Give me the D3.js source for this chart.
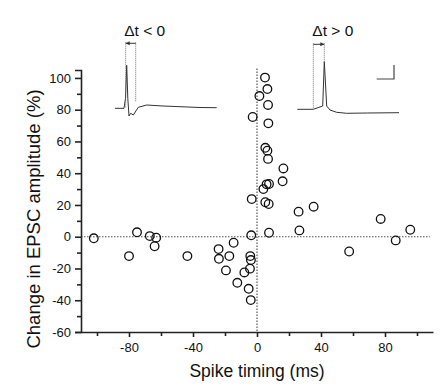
<!DOCTYPE html>
<html>
<head>
<script src="https://d3js.org/d3.v7.min.js"></script>
<style>
  body { margin: 0; background: white; }
  svg { display: block; font-family: 'Liberation Sans', Arial, sans-serif; }
</style>
</head>
<body>
<div class="chart"></div>
<script>
// spike timing (ms) vs change in EPSC amplitude (%)
const timing = [-102, -80, -75, -67, -63, -64, -43.5, -24, -23.8, -17.3, -14.6, -19.4, -12.3, -7.9, -4.4, -4.2, -3.8, -5.2, -3.9, -3.6,
                5, 6.5, 1.5, 6.9, -2.7, 7.1, 5.2, 6.5, 6.9, 16.5, 16, 7.5, 6, 4, -3.3, 5.2, 7.3, 26, 35.4, 7.5, 26.5, 57.6, 77.3, 86.7, 95.8];
const change = [-1, -12.2, 2.8, 0.4, -0.6, -6, -12.2, -7.8, -13.9, -12.2, -3.8, -21.2, -29, -22.5, -20.1, -12.2, -14.7, -32.8, -39.9, 0.9,
                100.2, 93, 88.6, 83, 75.4, 71.4, 56, 54.2, 49, 43, 34.9, 33.2, 33, 30, 23.7, 21.7, 20.6, 15.8, 18.9, 2.5, 4, -9.3, 11.2, -2.3, 4.4];
const xTicks = [-100, -80, -60, -40, -20, 0, 20, 40, 60, 80, 100];
const xLabels = [-80, -40, 0, 40, 80];
const yTicks = [-60, -50, -40, -30, -20, -10, 0, 10, 20, 30, 40, 50, 60, 70, 80, 90, 100];
const yLabels = [-60, -40, -20, 0, 20, 40, 60, 80, 100];

// inset traces, [time, amplitude] in inset units
const preTrace = [[0, 0], [9, 0], [10.5, 10], [11.7, 43], [12.8, 10], [14, -7.7], [15.7, -5], [18.3, -6.7], [23.3, 1], [31.7, 3.3], [48, 2.3], [65, 1.6], [85, 0.8], [101.7, 0.6]];
const postTrace = [[0, 0], [16, 0], [25.4, 3.3], [27, 47.6], [29.4, 3.3], [32.7, -0.7], [39.4, -3], [49.4, -4], [70, -3.7], [101.7, -3.4]];

const w = 448, h = 387;
const svg = d3.select(".chart").append("svg").attr("width", w).attr("height", h);

const x = d3.scaleLinear().domain([-110, 110]).range([81, 433]);
const y = d3.scaleLinear().domain([-60, 105]).range([332, 70]);

// zero lines
svg.append("line")
  .attr("x1", x(-110)).attr("x2", x(108))
  .attr("y1", y(0)).attr("y2", y(0))
  .attr("stroke", "#555").attr("stroke-width", 1.2).attr("stroke-dasharray", "1.5,1.5");
svg.append("line")
  .attr("x1", x(0)).attr("x2", x(0))
  .attr("y1", y(106)).attr("y2", y(-60))
  .attr("stroke", "#555").attr("stroke-width", 1.2).attr("stroke-dasharray", "1.5,1.5");

// axes
const xAxis = svg.append("g")
  .attr("transform", `translate(0,${y(-60)})`)
  .call(d3.axisBottom(x).tickValues(xTicks).tickSize(5).tickSizeOuter(0).tickPadding(6)
    .tickFormat(d => xLabels.includes(d) ? String(d) : ""));
xAxis.selectAll(".tick line").attr("y2", d => xLabels.includes(d) ? 5 : 4);

const yAxis = svg.append("g")
  .attr("transform", `translate(${x(-110)},0)`)
  .call(d3.axisLeft(y).tickValues(yTicks).tickSize(6).tickSizeOuter(6).tickPadding(4)
    .tickFormat(d => yLabels.includes(d) ? String(d) : ""));
yAxis.selectAll(".tick line").attr("x2", d => yLabels.includes(d) ? -6 : -4);

svg.selectAll(".domain, .tick line").attr("stroke", "#222").attr("stroke-width", 1.6);
svg.selectAll(".tick text").attr("font-size", 13).attr("fill", "#111")
  .attr("font-family", "'Liberation Sans', Arial, sans-serif");

// axis titles
svg.append("text")
  .attr("x", x(0)).attr("y", 377)
  .attr("text-anchor", "middle").attr("font-size", 17.5).attr("fill", "#111")
  .text("Spike timing (ms)");
svg.append("text")
  .attr("transform", "translate(40,219) rotate(-90)")
  .attr("text-anchor", "middle").attr("font-size", 18.5).attr("fill", "#111")
  .text("Change in EPSC amplitude (%)");

// data points
svg.selectAll("circle")
  .data(timing.map((t, i) => [t, change[i]]))
  .enter()
  .append("circle")
  .attr("cx", d => x(d[0]))
  .attr("cy", d => y(d[1]))
  .attr("r", 4.3)
  .attr("fill", "none")
  .attr("stroke", "#111")
  .attr("stroke-width", 1.3);

// insets
function inset(trace, x0, y0, lines, arrowDir, label) {
  const ix = d3.scaleLinear().domain([0, 1]).range([x0, x0 + 1]);
  const iy = d3.scaleLinear().domain([0, 1]).range([y0, y0 - 1]);
  const g = svg.append("g");
  g.append("path")
    .attr("d", d3.line().x(d => ix(d[0])).y(d => iy(d[1]))(trace))
    .attr("fill", "none").attr("stroke", "#333").attr("stroke-width", 1);
  lines.forEach(l => {
    g.append("line")
      .attr("x1", ix(l[0])).attr("x2", ix(l[0]))
      .attr("y1", iy(66)).attr("y2", iy(l[1]))
      .attr("stroke", "#666").attr("stroke-width", 0.9).attr("stroke-dasharray", "1,1");
  });
  const a = arrowDir < 0 ? ix(lines[0][0]) : ix(lines[1][0]);
  const b = arrowDir < 0 ? ix(lines[1][0]) : ix(lines[0][0]);
  const ay = iy(65);
  g.append("line").attr("x1", b).attr("x2", a).attr("y1", ay).attr("y2", ay)
    .attr("stroke", "#333").attr("stroke-width", 1);
  g.append("path")
    .attr("d", `M${a},${ay}L${a - arrowDir * 4},${ay - 2}L${a - arrowDir * 4},${ay + 2}Z`)
    .attr("fill", "#333");
  g.append("text")
    .attr("x", (ix(lines[0][0]) + ix(lines[1][0])) / 2 + 14).attr("y", 36)
    .attr("text-anchor", "middle").attr("font-size", 15.5).attr("fill", "#111")
    .text(label);
}
inset(preTrace, 115, 108.3, [[10.7, 0], [20.7, 7]], -1, "\u0394t < 0");
inset(postTrace, 297.3, 109.3, [[16, 0], [27, 47]], 1, "\u0394t > 0");

// scale bar
svg.append("path")
  .attr("d", "M376.7,79H394V65")
  .attr("fill", "none").attr("stroke", "#444").attr("stroke-width", 1.2);
</script>
</body>
</html>
